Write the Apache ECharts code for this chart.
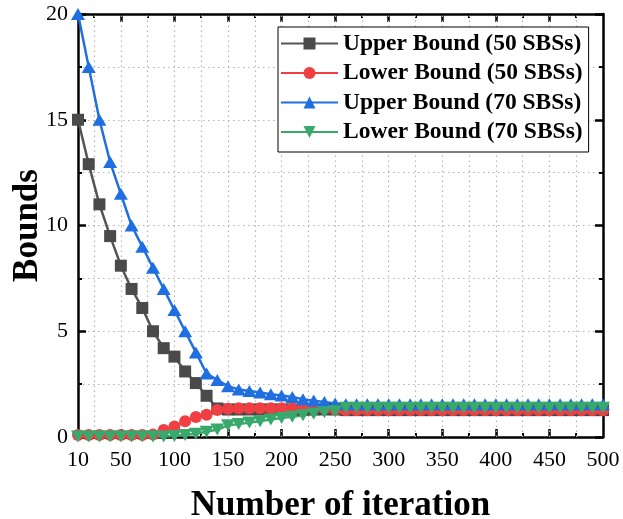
<!DOCTYPE html>
<html><head><meta charset="utf-8">
<script src="https://cdn.jsdelivr.net/npm/echarts@6/dist/echarts.min.js"></script>
<style>html,body{margin:0;padding:0;background:#fff}#c{width:623px;height:519px}</style>
</head><body><div id="c"></div>
<script>
const iterations = [10,20,30,40,50,60,70,80,90,100,110,120,130,140,150,160,170,180,190,200,210,220,230,240,250,260,270,280,290,300,310,320,330,340,350,360,370,380,390,400,410,420,430,440,450,460,470,480,490,500];
const upper50 = [15,12.9,11.0,9.5,8.1,7.0,6.1,5.0,4.2,3.8,3.1,2.55,1.95,1.35,1.3,1.3,1.3,1.3,1.3,1.3,1.3,1.3,1.3,1.3,1.3,
  1.27,1.27,1.27,1.27,1.27,1.27,1.27,1.27,1.27,1.27,1.27,1.27,1.27,1.27,1.27,1.27,1.27,1.27,1.27,1.27,1.27,1.27,1.27,1.27,1.27];
const lower50 = [0.1,0.1,0.1,0.1,0.1,0.1,0.1,0.12,0.33,0.5,0.75,0.95,1.05,1.28,1.33,1.36,1.36,1.36,1.36,1.36,1.36,1.36,1.36,1.36,1.3,
  1.27,1.27,1.27,1.27,1.27,1.27,1.27,1.27,1.27,1.27,1.27,1.27,1.27,1.27,1.27,1.27,1.27,1.27,1.27,1.27,1.27,1.27,1.27,1.27,1.27];
const upper70 = [20,17.5,15.0,13.0,11.5,10.0,9.0,8.0,7.0,6.0,5.0,4.0,3.0,2.7,2.4,2.25,2.17,2.1,2.02,1.96,1.89,1.79,1.72,1.65,1.58,
  1.55,1.55,1.55,1.55,1.55,1.55,1.55,1.55,1.55,1.55,1.55,1.55,1.55,1.55,1.55,1.55,1.55,1.55,1.55,1.55,1.55,1.55,1.55,1.55,1.55];
const lower70 = [0.02,0.02,0.02,0.02,0.02,0.02,0.02,0.02,0.02,0.05,0.1,0.15,0.25,0.35,0.55,0.62,0.68,0.75,0.83,0.9,0.96,1.03,1.1,1.17,1.22,
  1.38,1.38,1.38,1.38,1.38,1.38,1.38,1.38,1.38,1.38,1.38,1.38,1.38,1.38,1.38,1.38,1.38,1.38,1.38,1.38,1.38,1.38,1.38,1.38,1.38];
const seriesNames = ['Upper Bound (50 SBSs)','Lower Bound (50 SBSs)','Upper Bound (70 SBSs)','Lower Bound (70 SBSs)'];
const xLabelValues = [10,50,100,150,200,250,300,350,400,450,500];
const xMajorTicks = [50,100,150,200,250,300,350,400,450];
const xMinorTicks = [25,75,125,175,225,275,325,375,425,475];
const xGridValues = [25,50,75,100,125,150,175,200,225,250,275,300,325,350,375,400,425,450,475];

const serif = 'Liberation Serif';
const gridLine = {color: '#b3b3b3', type: [1.5, 3.5], width: 1.2, opacity: 1};
const pair = arr => iterations.map((x, i) => [x, arr[i]]);
const axisLineStyle = {show: true, lineStyle: {color: '#000', width: 2.5}};
const xBase = {type: 'value', min: 10, max: 500, gridIndex: 0, splitLine: {show: false}};

const chart = echarts.init(document.getElementById('c'), null, {renderer: 'canvas'});
chart.setOption({
  animation: false,
  backgroundColor: '#fff',
  grid: {left: 78, right: 20, top: 14, bottom: 82, containLabel: false, outerBoundsMode: 'none'},
  legend: {
    data: seriesNames, orient: 'vertical', left: 278, top: 27,
    itemWidth: 57, itemHeight: 15, itemGap: 5.5,
    padding: [4.5, 6, 8, 2],
    borderColor: '#000', borderWidth: 1, backgroundColor: '#fff',
    textStyle: {fontFamily: serif, fontWeight: 'bold', fontSize: 23.5, color: '#000', lineHeight: 24}
  },
  xAxis: [
    Object.assign({}, xBase, {
      position: 'bottom',
      name: 'Number of iteration', nameLocation: 'middle', nameGap: 51, nameMoveOverlap: false,
      nameTextStyle: {fontFamily: serif, fontWeight: 'bold', fontSize: 35, color: '#000'},
      axisLine: axisLineStyle,
      axisTick: {show: true, inside: true, length: 8, customValues: xMajorTicks, lineStyle: {color: '#000', width: 2.5}},
      axisLabel: {show: true, customValues: xLabelValues, margin: 12.5, fontFamily: serif, fontSize: 22, color: '#000'}
    }),
    Object.assign({}, xBase, {
      position: 'bottom', axisLine: {show: false},
      axisTick: {show: true, inside: true, length: 4, customValues: xMinorTicks, lineStyle: {color: '#000', width: 2}},
      axisLabel: {show: false}
    }),
    Object.assign({}, xBase, {
      position: 'top', axisLine: axisLineStyle,
      axisTick: {show: true, inside: true, length: 8, customValues: xMajorTicks, lineStyle: {color: '#000', width: 2.5}},
      axisLabel: {show: false}
    }),
    Object.assign({}, xBase, {
      position: 'top', axisLine: {show: false},
      axisTick: {show: true, inside: true, length: 4, customValues: xMinorTicks, lineStyle: {color: '#000', width: 2}},
      axisLabel: {show: false}
    })
  ],
  yAxis: [
    {
      type: 'value', min: 0, max: 20, interval: 5, position: 'left',
      name: 'Bounds', nameLocation: 'middle', nameGap: 33, nameRotate: 90, nameMoveOverlap: false,
      nameTextStyle: {fontFamily: serif, fontWeight: 'bold', fontSize: 35, color: '#000'},
      axisLine: axisLineStyle,
      axisTick: {show: true, inside: true, length: 8, lineStyle: {color: '#000', width: 2.5}},
      minorTick: {show: true, splitNumber: 2, length: 4, lineStyle: {color: '#000', width: 2}},
      axisLabel: {margin: 10, fontFamily: serif, fontSize: 22, color: '#000'},
      splitLine: {show: true, lineStyle: gridLine},
      minorSplitLine: {show: true, lineStyle: gridLine}
    },
    {
      type: 'value', min: 0, max: 20, interval: 5, position: 'right',
      axisLine: axisLineStyle,
      axisTick: {show: true, inside: true, length: 8, lineStyle: {color: '#000', width: 2.5}},
      minorTick: {show: true, splitNumber: 2, length: 4, lineStyle: {color: '#000', width: 2}},
      axisLabel: {show: false}, splitLine: {show: false}
    }
  ],
  series: [
    {
      name: seriesNames[0], type: 'line', data: pair(upper50), xAxisIndex: 0, yAxisIndex: 0,
      symbol: 'rect', symbolSize: 12, showAllSymbol: true,
      lineStyle: {color: '#545454', width: 2.5}, itemStyle: {color: '#4a4a4a'},
      markLine: {
        silent: true, symbol: ['none', 'none'], z: 1, animation: false,
        label: {show: false},
        lineStyle: gridLine,
        emphasis: {disabled: true},
        data: xGridValues.map(v => ({xAxis: v}))
      }
    },
    {
      name: seriesNames[1], type: 'line', data: pair(lower50), xAxisIndex: 0, yAxisIndex: 0,
      symbol: 'circle', symbolSize: 12, showAllSymbol: true,
      lineStyle: {color: '#f03f43', width: 2.5}, itemStyle: {color: '#f03f43'}
    },
    {
      name: seriesNames[2], type: 'line', data: pair(upper70), xAxisIndex: 0, yAxisIndex: 0,
      symbol: 'triangle', symbolSize: [14, 12], showAllSymbol: true,
      lineStyle: {color: '#1f6fe0', width: 2.5}, itemStyle: {color: '#1f6fe0'}
    },
    {
      name: seriesNames[3], type: 'line', data: pair(lower70), xAxisIndex: 0, yAxisIndex: 0,
      symbol: 'path://M0,0 L10,0 L5,8.66 Z', symbolSize: [14, 12], showAllSymbol: true,
      lineStyle: {color: '#38a96b', width: 2.5}, itemStyle: {color: '#38a96b'}
    }
  ]
});
</script>
</body></html>
